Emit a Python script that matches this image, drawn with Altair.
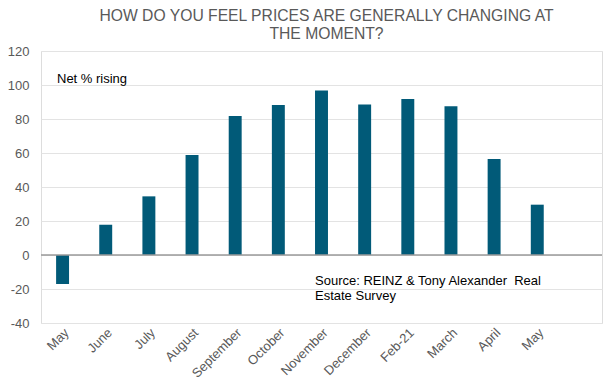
import json
import altair as alt
import pandas as pd

months = ["May", "June", "July", "August", "September", "October", "November",
          "December", "Feb-21", "March", "April", "May"]
values = [-17, 17.8, 34.5, 58.8, 81.8, 88.2, 96.7, 88.6, 91.8, 87.5, 56.5, 29.6]
y_ticks = [-40, -20, 0, 20, 40, 60, 80, 100, 120]
title_lines = ["HOW DO YOU FEEL PRICES ARE GENERALLY CHANGING AT", "THE MOMENT?"]
note_text = "Net % rising"
source_lines = ["Source: REINZ & Tony Alexander\u00a0 Real", "Estate Survey"]

FONT = "Liberation Sans"
GREY = "#595959"
BAR = "#015a78"

idx = list(range(len(months)))
domain = list(range(len(months) + 1))  # one empty slot at the end
df = pd.DataFrame({"idx": idx, "value": values})
label_arr = json.dumps(months + [""])

x = alt.X("idx:O", scale=alt.Scale(domain=domain, paddingInner=0.7, paddingOuter=0.35),
          axis=alt.Axis(title=None, ticks=False, domain=False, labelAngle=-45,
                        labelAlign="right", labelBaseline="top", labelPadding=3,
                        labelFont=FONT, labelFontSize=13, labelColor=GREY,
                        labelExpr=f"{label_arr}[datum.value]"))
y_scale = alt.Scale(domain=[-40, 120], nice=False)
y_axis = alt.Axis(title=None, values=y_ticks, ticks=False, domain=False,
                  labelPadding=12, labelFont=FONT, labelFontSize=13,
                  labelOverlap=False, labelExpr="toString(datum.value)",
                  labelColor=GREY, gridColor="#e3e3e3", gridWidth=1)

bars = alt.Chart(df).mark_bar(color=BAR).encode(
    x=x, y=alt.Y("value:Q", scale=y_scale, axis=y_axis))

zero = alt.Chart(pd.DataFrame({"value": [0]})).mark_rule(color="#9a9a9a", strokeWidth=1.5).encode(
    y=alt.Y("value:Q", scale=y_scale, axis=y_axis))

note = alt.Chart(pd.DataFrame({"t": [note_text]})).mark_text(
    font=FONT, fontSize=13, color="black", align="left", baseline="alphabetic"
).encode(text="t:N", x=alt.value(16), y=alt.value(32))

source = alt.Chart(pd.DataFrame({"t": [source_lines]})).mark_text(
    font=FONT, fontSize=13, color="black", align="left", baseline="alphabetic", lineHeight=15
).encode(text="t", x=alt.value(274), y=alt.value(234))

chart = alt.layer(bars, zero, note, source).properties(
    width=561, height=272,
    autosize=alt.AutoSizeParams(type="none"),
    padding={"left": 33, "top": 43, "right": 2, "bottom": 58},
    title=alt.TitleParams(text=title_lines, font=FONT, fontSize=15.7, fontWeight="normal",
                          color=GREY, anchor="middle", offset=2, dx=5, lineHeight=18),
).configure_view(stroke="#9a9a9a", strokeWidth=1.5).configure(background="white")

chart.save("out.html", embed_options={"renderer": "svg", "actions": False})
